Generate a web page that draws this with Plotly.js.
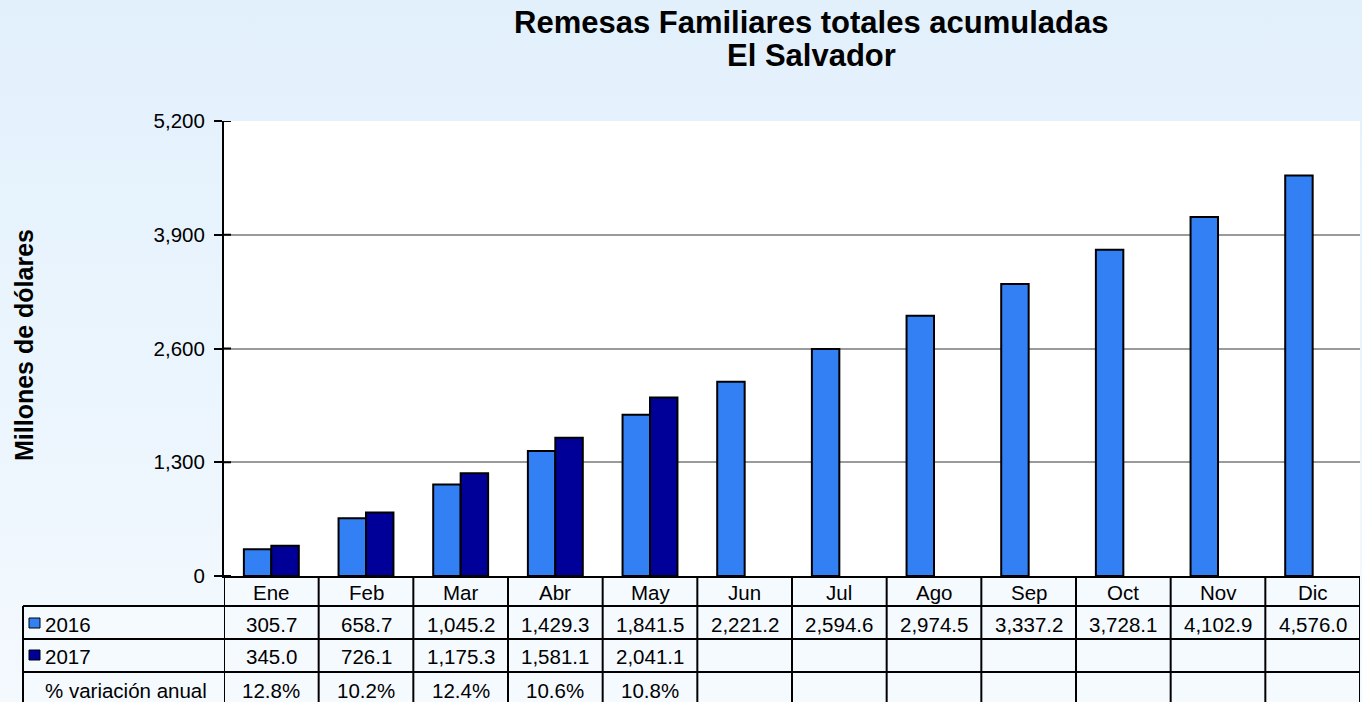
<!DOCTYPE html>
<html>
<head>
<meta charset="utf-8">
<script src="https://cdn.plot.ly/plotly-3.0.1.min.js"></script>
<style>
  html, body { margin: 0; padding: 0; }
  body { width: 1362px; height: 702px; overflow: hidden;
         background: linear-gradient(to bottom, #e2f0fc 0%, #ebf5fd 55%, #f4f9fe 100%); }
  #chart { width: 1362px; height: 702px; }
</style>
</head>
<body>
<div id="chart"></div>
<script>
// ---- data ----
const months = ['Ene','Feb','Mar','Abr','May','Jun','Jul','Ago','Sep','Oct','Nov','Dic'];
const values2016 = [305.7, 658.7, 1045.2, 1429.3, 1841.5, 2221.2, 2594.6, 2974.5, 3337.2, 3728.1, 4102.9, 4576.0];
const values2017 = [345.0, 726.1, 1175.3, 1581.1, 2041.1];
const variacion = ['12.8%', '10.2%', '12.4%', '10.6%', '10.8%'];
const yTicks = [0, 1300, 2600, 3900, 5200];
const seriesNames = ['2016', '2017'];
const rowLabelPct = '% variación anual';
const titleLine1 = 'Remesas Familiares totales acumuladas';
const titleLine2 = 'El Salvador';
const yTitle = 'Millones de dólares';

// ---- geometry (pixels) ----
const W = 1362, H = 702;
const M = {l: 224, r: 2, t: 121, b: 126};
const PW = W - M.l - M.r, PH = H - M.t - M.b;
const px = x => (x - M.l) / PW;          // pixel x -> paper x
const py = y => (H - M.b - y) / PH;      // pixel y -> paper y

const C16 = '#3280f3', C17 = '#000099';
const FONT = 'Liberation Sans, Arial, sans-serif';

function fmt(v) {
  const s = v.toFixed(1);
  const [i, d] = s.split('.');
  return i.replace(/\B(?=(\d{3})+(?!\d))/g, ',') + '.' + d;
}

const traces = [
  {type: 'bar', name: seriesNames[0], x: months, y: values2016,
   marker: {color: C16, line: {color: '#000', width: 2}}, hoverinfo: 'skip'},
  {type: 'bar', name: seriesNames[1], x: months.slice(0, values2017.length), y: values2017,
   marker: {color: C17, line: {color: '#000', width: 2}}, hoverinfo: 'skip'}
];

const shapes = [];
const ann = [];

// table background
shapes.push({type: 'rect', xref: 'paper', yref: 'paper', x0: px(23), x1: 1, y0: py(606), y1: py(702),
  fillcolor: '#f5faff', line: {width: 0}, layer: 'below'});
shapes.push({type: 'rect', xref: 'paper', yref: 'paper', x0: 0, x1: 1, y0: py(576), y1: py(606),
  fillcolor: '#f5faff', line: {width: 0}, layer: 'below'});

// inner part of crossing y ticks
yTicks.forEach(t => {
  shapes.push({type: 'line', xref: 'paper', yref: 'y', x0: 0, x1: 7 / PW, y0: t, y1: t,
    line: {color: '#000', width: 2}});
});

// table vertical lines at category boundaries
for (let i = 0; i <= months.length; i++) {
  shapes.push({type: 'line', xref: 'x', yref: 'paper', x0: i - 0.5, x1: i - 0.5,
    y0: py(576), y1: py(702), line: {color: '#000', width: 2}});
}
// left label column line
shapes.push({type: 'line', xref: 'paper', yref: 'paper', x0: px(23), x1: px(23),
  y0: py(606), y1: py(702), line: {color: '#000', width: 2}});
// horizontal row lines
[606, 639, 672].forEach(y => {
  shapes.push({type: 'line', xref: 'paper', yref: 'paper', x0: px(23), x1: 1,
    y0: py(y), y1: py(y), line: {color: '#000', width: 2}});
});

// legend keys in table
[[C16, 618, 628], [C17, 650, 660]].forEach(([c, y0, y1]) => {
  shapes.push({type: 'rect', xref: 'paper', yref: 'paper', x0: px(29), x1: px(40),
    y0: py(y0), y1: py(y1), fillcolor: c, line: {color: '#000', width: 1}});
});

const tf = {family: FONT, size: 20.5, color: '#000'};
// header months
months.forEach((m, i) => {
  ann.push({xref: 'x', yref: 'paper', x: i, y: py(592), text: m, showarrow: false,
    font: tf, xanchor: 'center', yanchor: 'middle'});
});
values2016.forEach((v, i) => {
  ann.push({xref: 'x', yref: 'paper', x: i, y: py(624), text: fmt(v), showarrow: false,
    font: tf, xanchor: 'center', yanchor: 'middle'});
});
values2017.forEach((v, i) => {
  ann.push({xref: 'x', yref: 'paper', x: i, y: py(656), text: fmt(v), showarrow: false,
    font: tf, xanchor: 'center', yanchor: 'middle'});
});
variacion.forEach((v, i) => {
  ann.push({xref: 'x', yref: 'paper', x: i, y: py(690), text: v, showarrow: false,
    font: tf, xanchor: 'center', yanchor: 'middle'});
});
// row labels
ann.push({xref: 'paper', yref: 'paper', x: px(43), y: py(624), text: seriesNames[0], showarrow: false,
  font: tf, xanchor: 'left', yanchor: 'middle'});
ann.push({xref: 'paper', yref: 'paper', x: px(43), y: py(656), text: seriesNames[1], showarrow: false,
  font: tf, xanchor: 'left', yanchor: 'middle'});
ann.push({xref: 'paper', yref: 'paper', x: px(126), y: py(690), text: rowLabelPct, showarrow: false,
  font: tf, xanchor: 'center', yanchor: 'middle'});

// titles
const titleFont = {family: FONT, size: 31, color: '#000'};
ann.push({xref: 'paper', yref: 'paper', x: px(811), y: py(22), text: '<b>' + titleLine1 + '</b>',
  showarrow: false, font: titleFont, xanchor: 'center', yanchor: 'middle'});
ann.push({xref: 'paper', yref: 'paper', x: px(811), y: py(55), text: '<b>' + titleLine2 + '</b>',
  showarrow: false, font: titleFont, xanchor: 'center', yanchor: 'middle'});
ann.push({xref: 'paper', yref: 'paper', x: px(24), y: py(345), text: '<b>' + yTitle + '</b>',
  showarrow: false, textangle: -90, font: {family: FONT, size: 25, color: '#000'},
  xanchor: 'center', yanchor: 'middle'});

const layout = {
  width: W, height: H,
  margin: M,
  paper_bgcolor: 'rgba(0,0,0,0)',
  plot_bgcolor: '#ffffff',
  showlegend: false,
  barmode: 'group',
  bargap: 0.42,
  bargroupgap: 0,
  font: {family: FONT, size: 20.5, color: '#000'},
  xaxis: {
    type: 'category', range: [-0.5, months.length - 0.5],
    showticklabels: false, ticks: '', showgrid: false,
    showline: true, linecolor: '#000', linewidth: 2, zeroline: false, fixedrange: true
  },
  yaxis: {
    range: [0, 5200], tickvals: yTicks, tickformat: ',',
    ticks: 'outside', ticklen: 8, tickwidth: 2, tickcolor: '#000',
    ticklabelstandoff: 5,
    showgrid: true, gridcolor: '#9a9a9a', gridwidth: 2,
    showline: true, linecolor: '#000', linewidth: 2, zeroline: false,
    tickfont: {family: FONT, size: 20.5, color: '#000'}, fixedrange: true
  },
  shapes: shapes,
  annotations: ann
};

Plotly.newPlot('chart', traces, layout, {displayModeBar: false, staticPlot: true});
</script>
</body>
</html>
